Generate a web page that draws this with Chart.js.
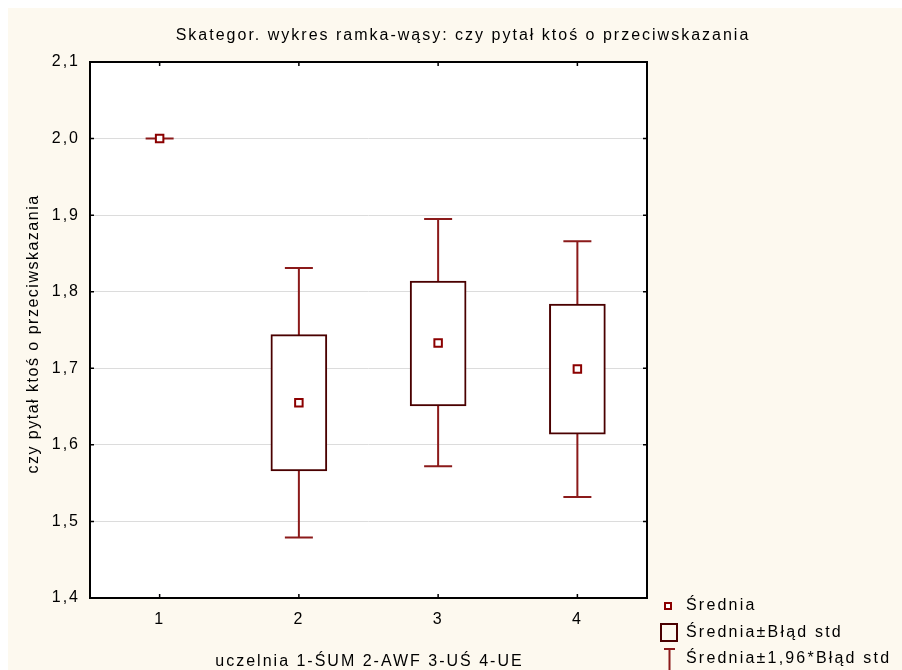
<!DOCTYPE html>
<html>
<head>
<meta charset="utf-8">
<script src="https://cdn.jsdelivr.net/npm/chart.js@4"></script>
<style>
html,body{margin:0;padding:0;background:#ffffff;}
canvas{display:block;}
</style>
</head>
<body>
<canvas id="c" width="902" height="670"></canvas>
<script>
// ---- data ----
const categories = ['1', '2', '3', '4'];
const means       = [2.000, 1.655, 1.733, 1.699];
const boxLow      = [2.000, 1.566, 1.651, 1.614];
const boxHigh     = [2.000, 1.744, 1.814, 1.784];
const whiskerLow  = [2.000, 1.479, 1.572, 1.532];
const whiskerHigh = [2.000, 1.831, 1.895, 1.866];
const yMin = 1.4, yMax = 2.1, yStep = 0.1;

const chartTitle = 'Skategor. wykres ramka-wąsy: czy pytał ktoś o przeciwskazania';
const xTitle = 'uczelnia 1-ŚUM 2-AWF 3-UŚ 4-UE';
const yTitle = 'czy pytał ktoś o przeciwskazania';
const legendLabels = ['Średnia', 'Średnia±Błąd std', 'Średnia±1,96*Błąd std'];

const FONT = '"Liberation Sans", Arial, sans-serif';
const CREAM = '#fdf9ef';
const WHISKER = '#8b1a1a';
const BOXC = '#4a0000';
const MEANC = '#8b0000';

const decor = {
  id: 'decor',
  beforeDraw(chart) {
    const ctx = chart.ctx, a = chart.chartArea;
    ctx.letterSpacing = '2px';
    ctx.save();
    ctx.fillStyle = '#ffffff';
    ctx.fillRect(0, 0, chart.width, chart.height);
    ctx.fillStyle = CREAM;
    ctx.fillRect(8, 8, chart.width - 8, chart.height - 8);
    ctx.fillStyle = '#ffffff';
    ctx.fillRect(a.left, a.top, a.right - a.left, a.bottom - a.top);
    ctx.restore();
  },
  beforeDatasetsDraw(chart) {
    const ctx = chart.ctx, xs = chart.scales.x, ys = chart.scales.y;
    ctx.save();
    ctx.strokeStyle = WHISKER;
    ctx.lineWidth = 2;
    categories.forEach((c, i) => {
      const x = xs.getPixelForValue(i);
      const y1 = ys.getPixelForValue(whiskerHigh[i]);
      const y2 = ys.getPixelForValue(whiskerLow[i]);
      ctx.beginPath();
      ctx.moveTo(x, y1); ctx.lineTo(x, y2);
      ctx.moveTo(x - 14, y1); ctx.lineTo(x + 14, y1);
      ctx.moveTo(x - 14, y2); ctx.lineTo(x + 14, y2);
      ctx.stroke();
    });
    ctx.restore();
  },
  afterDraw(chart) {
    const ctx = chart.ctx, a = chart.chartArea, xs = chart.scales.x, ys = chart.scales.y;
    ctx.save();
    // inner tick marks
    ctx.strokeStyle = '#000';
    ctx.lineWidth = 1.5;
    ctx.beginPath();
    categories.forEach((c, i) => {
      const x = xs.getPixelForValue(i);
      ctx.moveTo(x, a.top); ctx.lineTo(x, a.top + 4);
      ctx.moveTo(x, a.bottom); ctx.lineTo(x, a.bottom - 4);
    });
    ys.ticks.forEach(t => {
      const y = ys.getPixelForValue(t.value);
      ctx.moveTo(a.left, y); ctx.lineTo(a.left + 4, y);
      ctx.moveTo(a.right, y); ctx.lineTo(a.right - 4, y);
    });
    ctx.stroke();
    // frame
    ctx.lineWidth = 2;
    ctx.strokeRect(a.left, a.top, a.right - a.left, a.bottom - a.top);
    // title
    ctx.fillStyle = '#000';
    ctx.font = '16px ' + FONT;
    ctx.textAlign = 'center';
    ctx.textBaseline = 'middle';
    ctx.letterSpacing = '2px';
    ctx.fillText(chartTitle, 463, 36);
    // x axis title
    ctx.fillText(xTitle, (a.left + a.right) / 2 + 1, 662);
    // y axis title
    ctx.save();
    ctx.letterSpacing = '1.5px';
    ctx.translate(34, (a.top + a.bottom) / 2 + 4);
    ctx.rotate(-Math.PI / 2);
    ctx.fillText(yTitle, 0, 0);
    ctx.restore();
    // legend
    ctx.textAlign = 'left';
    ctx.letterSpacing = '2.2px';
    ctx.fillText(legendLabels[0], 686, 606);
    ctx.fillText(legendLabels[1], 686, 633);
    ctx.fillText(legendLabels[2], 686, 659);
    ctx.strokeStyle = MEANC;
    ctx.lineWidth = 2;
    ctx.fillStyle = '#fff';
    ctx.fillRect(665, 603, 6, 6);
    ctx.strokeRect(665, 603, 6, 6);
    ctx.strokeStyle = BOXC;
    ctx.strokeRect(661, 624, 16, 17);
    ctx.strokeStyle = WHISKER;
    ctx.beginPath();
    ctx.moveTo(664, 649); ctx.lineTo(675, 649);
    ctx.moveTo(669.5, 649); ctx.lineTo(669.5, 670);
    ctx.stroke();
    ctx.restore();
  }
};

new Chart(document.getElementById('c'), {
  data: {
    labels: categories,
    datasets: [
      {
        type: 'bar',
        data: categories.map((c, i) => boxLow[i] === boxHigh[i] ? null : [boxLow[i], boxHigh[i]]),
        backgroundColor: '#ffffff',
        borderColor: BOXC,
        borderWidth: 2,
        borderSkipped: false,
        barThickness: 56,
        order: 2
      },
      {
        type: 'line',
        data: means,
        showLine: false,
        pointStyle: 'rect',
        pointRadius: 5.3,
        pointBorderWidth: 2,
        pointBorderColor: MEANC,
        pointBackgroundColor: '#ffffff',
        order: 1
      }
    ]
  },
  options: {
    responsive: false,
    animation: false,
    devicePixelRatio: 1,
    layout: { padding: { top: 62, right: 255, left: 0, bottom: 0 } },
    plugins: { legend: { display: false }, title: { display: false }, tooltip: { enabled: false } },
    scales: {
      x: {
        type: 'category',
        offset: true,
        grid: { display: false, drawTicks: false },
        border: { display: false },
        ticks: { color: '#000', font: { family: FONT, size: 16 }, padding: 12 },
        afterFit(s) { s.height = 72; }
      },
      y: {
        min: yMin, max: yMax,
        grid: { color: '#dcdcdc', lineWidth: 1, drawTicks: false },
        border: { display: false },
        ticks: {
          stepSize: yStep, color: '#000', font: { family: FONT, size: 16 }, padding: 10,
          callback: v => v.toFixed(1).replace('.', ',')
        },
        afterFit(s) { s.width = 90; }
      }
    }
  },
  plugins: [decor]
});
</script>
</body>
</html>
